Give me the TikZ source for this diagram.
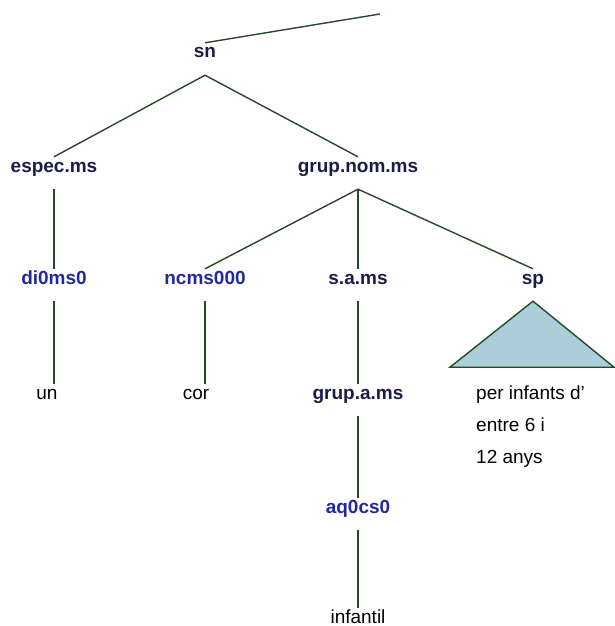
\documentclass[tikz,border=0pt]{standalone}
\usepackage{fontspec}
\setmainfont{Liberation Sans}
\usetikzlibrary{positioning}
\definecolor{treegreen}{RGB}{40,72,40}
\definecolor{catnavy}{RGB}{28,28,72}
\definecolor{tagblue}{RGB}{36,40,160}
\definecolor{spfill}{RGB}{172,206,218}

\begin{document}
\begin{tikzpicture}[x=1pt,y=-1pt,cat/.style={font=\bfseries\fontsize{19}{21}\selectfont,text=catnavy,text height=15pt,text depth=17pt,inner sep=0pt,anchor=base},tag/.style={cat,text=tagblue},word/.style={font=\fontsize{19}{21}\selectfont,text=black,text height=15pt,text depth=17pt,inner sep=0pt,anchor=base},branch/.style={draw=treegreen,line width=1.4pt}]
\useasboundingbox (0,0) rectangle (614,626);
\coordinate (up) at (380,14);
\node[cat] (sn) at (205,58) {sn};
\node[cat] (espec) at (54,172) {espec.ms};
\node[cat] (gnom) at (358,172) {grup.nom.ms};
\node[tag] (di0ms0) at (54,284) {di0ms0};
\node[tag] (ncms) at (205,284) {ncms000};
\node[cat] (sams) at (358,284) {s.a.ms};
\node[cat] (sp) at (533,284) {sp};
\node[word] (un) at (47,399) {un};
\node[word] (cor) at (196,399) {cor};
\node[cat] (gams) at (358,399) {grup.a.ms};
\node[tag] (aq) at (358,513) {aq0cs0};
\node[word,text depth=0pt] (inf) at (358,623) {infantil};
\node[anchor=base west,align=left,inner sep=0pt,font=\fontsize{19}{32}\selectfont] (spwords) at (476,463) {per infants d'\\entre 6 i\\12 anys};
\draw[branch] (sn.north) -- (up);
\draw[branch] (sn.south) -- (espec.north); \draw[branch] (sn.south) -- (gnom.north);
\draw[branch] (espec.south) -- (di0ms0.north);
\foreach \x in {ncms,sams,sp}{\draw[branch] (gnom.south) -- (\x.north);}
\draw[branch] (di0ms0.south) -- (di0ms0.south |- un.north);
\draw[branch] (ncms.south) -- (ncms.south |- cor.north);
\draw[branch] (sams.south) -- (gams.north); \draw[branch] (gams.south) -- (aq.north); \draw[branch] (aq.south) -- (inf.north);
\draw[branch,fill=spfill] (sp.south) -- ++(-83,66) -- ++(164,0) -- cycle;
\end{tikzpicture}
\end{document}
